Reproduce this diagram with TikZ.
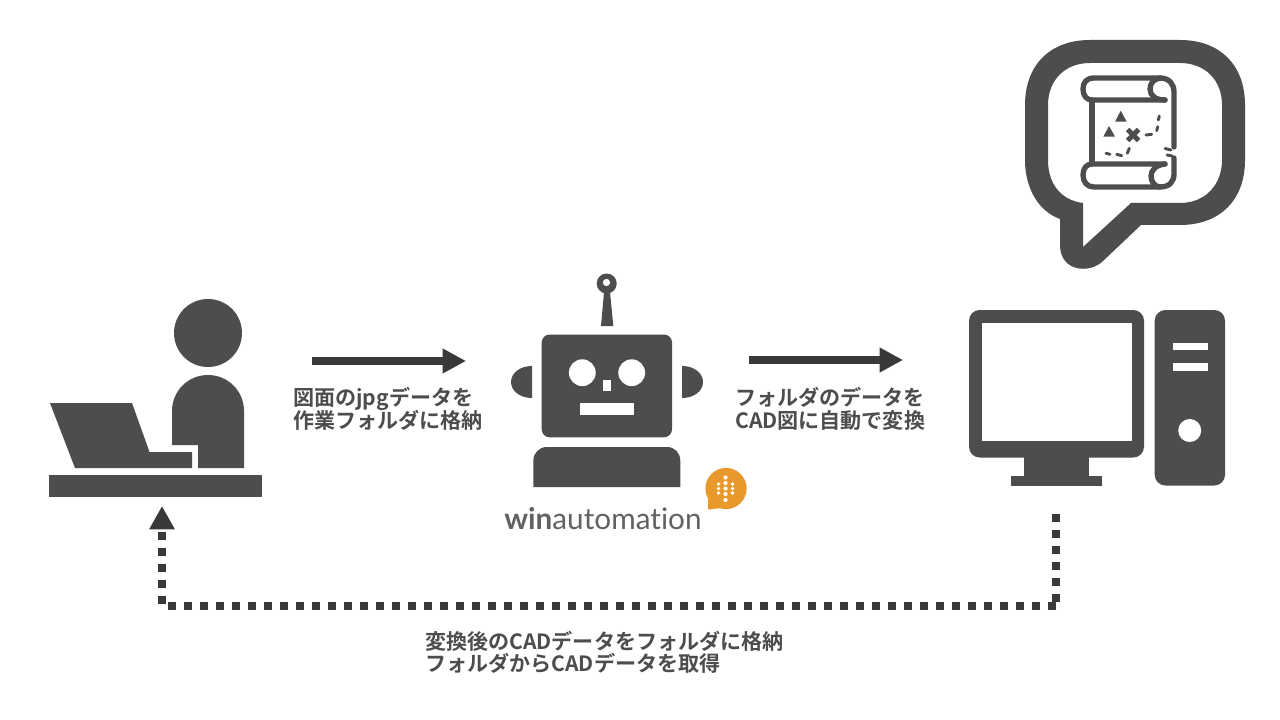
\documentclass[tikz,border=0pt]{standalone}
\usetikzlibrary{arrows.meta}
\usepackage{fontspec}
\setmainfont{Noto Sans CJK JP}[BoldFont={Noto Sans CJK JP Bold}]
\newfontfamily\logofont[Ligatures=NoCommon]{Lato}
\definecolor{ink}{HTML}{4D4D4D}
\definecolor{arrowink}{HTML}{3B3838}
\definecolor{logoorange}{HTML}{E9982B}
\tikzset{
  x=0.75pt,y=-0.75pt,
  solidicon/.style={fill=ink,draw=none},
  hole/.style={fill=white,draw=none},
  mapline/.style={draw=ink,line width=4pt,line cap=round,line join=round,fill=none},
  mapdash/.style={draw=ink,line width=2.2pt,line cap=round},
  flow/.style={draw=arrowink,line width=5.4pt,-{Triangle[length=17.5pt,width=17.5pt]}},
  dotted flow/.style={draw=arrowink,line width=6pt,dash pattern=on 6pt off 6pt},
  caption/.style={font=\bfseries\fontsize{15.8pt}{20pt}\selectfont,text=ink,align=left,anchor=north west,inner sep=0pt},
}
\begin{document}
\begin{tikzpicture}
\useasboundingbox (0,0) rectangle (1280,720);
\fill[white] (0,0) rectangle (1280,720);

% person at the laptop
\fill[solidicon] (208,333) circle (34);
\fill[solidicon] (172,445) -- (172,411) .. controls (172,391) and (188,375) .. (208,375)
  .. controls (228,375) and (244,391) .. (244,411) -- (244,468) -- (198,468) -- (198,445) -- cycle;
\fill[solidicon] (50,403) -- (132,403) -- (149.5,452) -- (192,452) -- (192,468) -- (75,468) -- cycle;
\fill[solidicon] (49,474.5) rectangle (262,497);

% robot
\fill[solidicon] (606.7,283.5) circle (10);
\fill[hole] (606.5,282.5) circle (3.6);
\fill[solidicon] (604,292) -- (610,292) -- (613.3,326) -- (601,326) -- cycle;
\fill[solidicon,rounded corners=6] (541.7,334.5) rectangle (672,437.3);
\fill[hole] (582.3,372.7) circle (13.4);
\fill[hole] (631.7,372.7) circle (13.4);
\fill[hole] (602.7,379.5) rectangle (611,390.7);
\fill[hole] (580,402.7) rectangle (633.7,415);
\fill[solidicon] (533.3,487) -- (533.3,461) .. controls (533.3,453) and (539,447) .. (547,447)
  -- (667,447) .. controls (675,447) and (680.3,453) .. (680.3,461) -- (680.3,487) -- cycle;
\fill[solidicon] (532,366) .. controls (520,366) and (511,373) .. (511,382)
  .. controls (511,391) and (520,398) .. (532,398) -- cycle;
\fill[solidicon] (682,366) .. controls (694,366) and (703,373) .. (703,382)
  .. controls (703,391) and (694,398) .. (682,398) -- cycle;

% logo
\fill[logoorange] (726,488.5) circle (20.6);
\fill[logoorange] (708,497) -- (708,509.5) -- (722,508) -- cycle;
\foreach \py in {477.5,483,488.5,494,500}{\fill[white] (725.5,\py) circle (2.1);}
\foreach \py in {484,488.5,493}{\fill[white] (718.5,\py) circle (1.9);\fill[white] (732.5,\py) circle (1.9);}
\node[anchor=base west,inner sep=0pt,text=ink!88,font=\logofont\fontsize{22.3pt}{26pt}\selectfont] (logo) at (504,529) {\textbf{win}automation};

% computer
\fill[solidicon,rounded corners=8] (969,310) rectangle (1144,457.5);
\fill[hole] (981.7,322.7) rectangle (1131.7,441);
\fill[solidicon] (1024,457) rectangle (1089.3,477);
\fill[solidicon] (1011,476) rectangle (1102,485.5);
\fill[solidicon,rounded corners=8] (1154.7,310) rectangle (1225,485.5);
\fill[hole] (1172.7,342.7) rectangle (1208,350);
\fill[hole] (1172.7,363.3) rectangle (1208,370.7);
\fill[hole] (1189.7,430.5) circle (11.5);

% speech bubble
\fill[solidicon,even odd rule]
  (1090,40) -- (1180,40) .. controls (1220,40) and (1245,65) .. (1245,105)
  -- (1245,160) .. controls (1245,200) and (1220,225) .. (1180,225)
  -- (1141,225) -- (1103,261) .. controls (1090,274) and (1060,272) .. (1060,245)
  -- (1060,219) .. controls (1040,212) and (1025,190) .. (1025,160)
  -- (1025,105) .. controls (1025,65) and (1050,40) .. (1090,40) -- cycle
  (1090,63) .. controls (1065,63) and (1048,80) .. (1048,105)
  -- (1048,160) .. controls (1048,183) and (1060,200) .. (1083,203)
  -- (1083,247) -- (1131,203) -- (1180,203)
  .. controls (1205,203) and (1222,185) .. (1222,160)
  -- (1222,105) .. controls (1222,80) and (1205,63) .. (1180,63) -- cycle;

% map scroll inside the bubble
\draw[mapline] (1092,100) -- (1092,164);
\draw[mapline] (1165,100) -- (1092,100) .. controls (1086,100) and (1083,95) .. (1083,89)
  .. controls (1083,83) and (1086,78) .. (1094,78) -- (1160,78)
  .. controls (1169,78) and (1174,84) .. (1174,92) -- (1174,147);
\draw[mapline] (1160,78) .. controls (1153,79) and (1150,84) .. (1150,89)
  .. controls (1150,96) and (1156,100) .. (1165,100);
\draw[mapline] (1165,164) -- (1092,164) .. controls (1086,164) and (1083,169) .. (1083,175)
  .. controls (1083,182) and (1087,187) .. (1094,187) -- (1160,187)
  .. controls (1169,187) and (1174,182) .. (1174,174) -- (1174,158);
\draw[mapline] (1165,164) .. controls (1156,165) and (1151,170) .. (1151,176)
  .. controls (1151,182) and (1155,187) .. (1160,187);
\fill[solidicon] (1120.7,110.7) -- (1126.7,121.7) -- (1115,121.7) -- cycle;
\fill[solidicon] (1109,126) -- (1115,136.7) -- (1103.3,136.7) -- cycle;
\draw[ink,line width=3.7pt] (1127.5,129.5) -- (1138.5,140.5) (1138.5,129.5) -- (1127.5,140.5);
\draw[mapdash] (1146,135) -- (1151.7,134.3) (1156.7,130.7) -- (1157.7,126.7) (1158.3,120) -- (1159.3,116);
\draw[mapdash] (1106,153.3) -- (1110,154.3) (1116.7,154.3) -- (1121.7,155.7) (1127.3,153.3) -- (1129.3,148.3);
\draw[mapdash] (1165,148.5) -- (1171,150) (1167,155) -- (1172,156);

% flow arrows
\coordinate (a1s) at (312,361); \coordinate (a1e) at (466,361);
\coordinate (a2s) at (749,360); \coordinate (a2e) at (903,360);
\draw[flow] (a1s) -- (a1e);
\draw[flow] (a2s) -- (a2e);

% dotted return path
\coordinate (r0) at (1056,514); \coordinate (r0b) at (1056,602);
\coordinate (r1) at (1056,606); \coordinate (r2) at (162,606); \coordinate (r3) at (162,506);
\draw[dotted flow] (r0) -- (r0b);
\draw[dotted flow,-{Triangle[length=17.5pt,width=18pt]}] (r1) -- (r2) -- (r3);

% captions
\node[caption] (c1) at (293,387) {図面のjpgデータを\\[-3pt]作業フォルダに格納};
\node[caption] (c2) at (735,387) {フォルダのデータを\\[-3pt]CAD図に自動で変換};
\node[caption] (c3) at (425,630.5) {変換後のCADデータをフォルダに格納\\[-3pt]フォルダからCADデータを取得};
\end{tikzpicture}
\end{document}
